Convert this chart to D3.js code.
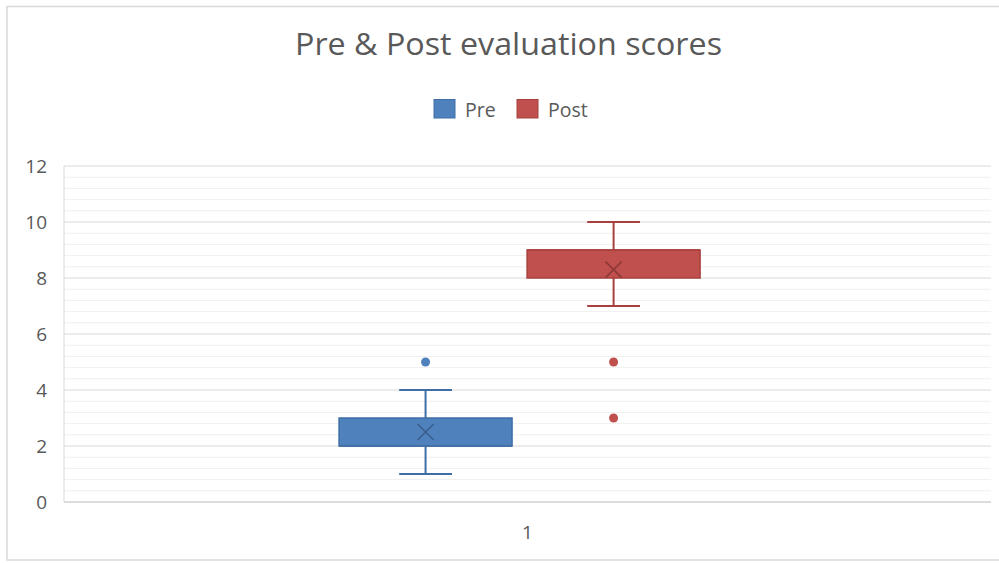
<!DOCTYPE html>
<html>
<head>
<meta charset="utf-8">
<script src="https://cdn.jsdelivr.net/npm/d3@7"></script>
<style>
  html, body { margin: 0; padding: 0; background: #fff; }
  svg { display: block; }
  text { font-family: "Open Sans", Lato, sans-serif; fill: #595959; }
</style>
</head>
<body>
<svg id="chart" width="999" height="563"></svg>
<script>
// Summary statistics for each box (score scale 0–12)
const categories = ["1"];
const seriesNames = ["Pre", "Post"];
const seriesColors = ["#4f81bd", "#c0504d"];
const seriesStrokes = ["#3f6ea6", "#a8403d"];
const meanStrokes = ["#385d8a", "#8c3836"];
const whiskerLow = [1, 7];
const quartile1 = [2, 8];
const medians = [2, 9];
const quartile3 = [3, 9];
const whiskerHigh = [4, 10];
const means = [2.5, 8.3];
const outliers = [[5], [5, 3]];
const yTicks = [0, 2, 4, 6, 8, 10, 12];

const svg = d3.select("#chart");
const plot = { left: 64, right: 991, top: 166, bottom: 502 };
const FONT = "'Open Sans', Lato, sans-serif";

// chart frame
svg.append("rect")
  .attr("x", 7).attr("y", 6.5)
  .attr("width", 1010).attr("height", 553.5)
  .attr("fill", "#fff")
  .attr("stroke", "#d9d9d9").attr("stroke-width", 1.5);

const y = d3.scaleLinear().domain([0, 12]).range([plot.bottom, plot.top]);
const x0 = d3.scaleBand().domain(categories).range([plot.left, plot.right]).padding(0);
const x1 = d3.scaleBand().domain(seriesNames)
  .range([0, x0.bandwidth()])
  .paddingInner(0.08).paddingOuter(1.505).align(0.486);

// minor gridlines
const minor = d3.range(0, 12.001, 0.4).filter(v => Math.abs(v / 2 - Math.round(v / 2)) > 1e-6);
svg.append("g").selectAll("line").data(minor).join("line")
  .attr("x1", plot.left).attr("x2", plot.right)
  .attr("y1", d => y(d)).attr("y2", d => y(d))
  .attr("stroke", "#f0f0f0").attr("stroke-width", 1);

// major gridlines
svg.append("g").selectAll("line").data(yTicks).join("line")
  .attr("x1", plot.left).attr("x2", plot.right)
  .attr("y1", d => y(d)).attr("y2", d => y(d))
  .attr("stroke", d => d === 0 ? "#d0d0d0" : "#d9d9d9")
  .attr("stroke-width", d => d === 0 ? 1.5 : 1);

// vertical axis line
svg.append("line")
  .attr("x1", plot.left).attr("x2", plot.left)
  .attr("y1", plot.top).attr("y2", plot.bottom)
  .attr("stroke", "#d9d9d9").attr("stroke-width", 1);

// y axis labels
const yAxis = d3.axisLeft(y).tickValues(yTicks).tickSize(0).tickPadding(17);
const gy = svg.append("g").attr("transform", `translate(${plot.left},0)`).call(yAxis);
gy.select(".domain").remove();
gy.selectAll("text").style("font-size", "19px").attr("fill", "#595959")
  .style("font-family", FONT);

// x axis label
const xAxis = d3.axisBottom(x0).tickSize(0).tickPadding(24);
const gx = svg.append("g").attr("transform", `translate(0,${plot.bottom})`).call(xAxis);
gx.select(".domain").remove();
gx.selectAll("text").style("font-size", "19px").attr("fill", "#595959")
  .style("font-family", FONT);

// boxes
const boxes = seriesNames.map((name, i) => ({
  name, i,
  lo: whiskerLow[i], q1: quartile1[i], med: medians[i], q3: quartile3[i],
  hi: whiskerHigh[i], mean: means[i], out: outliers[i]
}));

const g = svg.append("g").attr("transform", `translate(${x0(categories[0])},0)`);
boxes.forEach(b => {
  const bx = x1(b.name), bw = x1.bandwidth(), cx = bx + bw / 2;
  const capW = bw * 0.305;
  const col = seriesColors[b.i], st = seriesStrokes[b.i];
  const gb = g.append("g");
  // whiskers
  gb.append("line").attr("x1", cx).attr("x2", cx).attr("y1", y(b.q3)).attr("y2", y(b.hi))
    .attr("stroke", st).attr("stroke-width", 2);
  gb.append("line").attr("x1", cx).attr("x2", cx).attr("y1", y(b.q1)).attr("y2", y(b.lo))
    .attr("stroke", st).attr("stroke-width", 2);
  gb.append("line").attr("x1", cx - capW / 2).attr("x2", cx + capW / 2).attr("y1", y(b.hi)).attr("y2", y(b.hi))
    .attr("stroke", st).attr("stroke-width", 2);
  gb.append("line").attr("x1", cx - capW / 2).attr("x2", cx + capW / 2).attr("y1", y(b.lo)).attr("y2", y(b.lo))
    .attr("stroke", st).attr("stroke-width", 2);
  // box
  gb.append("rect").attr("x", bx).attr("y", y(b.q3))
    .attr("width", bw).attr("height", y(b.q1) - y(b.q3))
    .attr("fill", col).attr("stroke", st).attr("stroke-width", 1.5);
  // median
  gb.append("line").attr("x1", bx).attr("x2", bx + bw).attr("y1", y(b.med)).attr("y2", y(b.med))
    .attr("stroke", st).attr("stroke-width", 1.5);
  // mean marker
  const my = y(b.mean), s = 8;
  gb.append("path")
    .attr("d", `M${cx - s},${my - s}L${cx + s},${my + s}M${cx - s},${my + s}L${cx + s},${my - s}`)
    .attr("stroke", meanStrokes[b.i]).attr("stroke-width", 1.5).attr("fill", "none");
  // outliers
  gb.selectAll("circle").data(b.out).join("circle")
    .attr("cx", cx).attr("cy", d => y(d)).attr("r", 4.5)
    .attr("fill", col);
});

// title
svg.append("text")
  .attr("x", 508.5).attr("y", 55)
  .attr("text-anchor", "middle")
  .attr("textLength", 427).attr("lengthAdjust", "spacingAndGlyphs")
  .style("font-size", "31px")
  .text("Pre & Post evaluation scores");

// legend
const legendX = [434, 517];
const lg = svg.append("g");
seriesNames.forEach((name, i) => {
  lg.append("rect").attr("x", legendX[i]).attr("y", 99.5)
    .attr("width", 21).attr("height", 18.5)
    .attr("fill", seriesColors[i]).attr("stroke", seriesStrokes[i]).attr("stroke-width", 1);
  lg.append("text").attr("x", legendX[i] + 31).attr("y", 116.5)
    .style("font-size", "19.5px").text(name);
});
</script>
</body>
</html>
